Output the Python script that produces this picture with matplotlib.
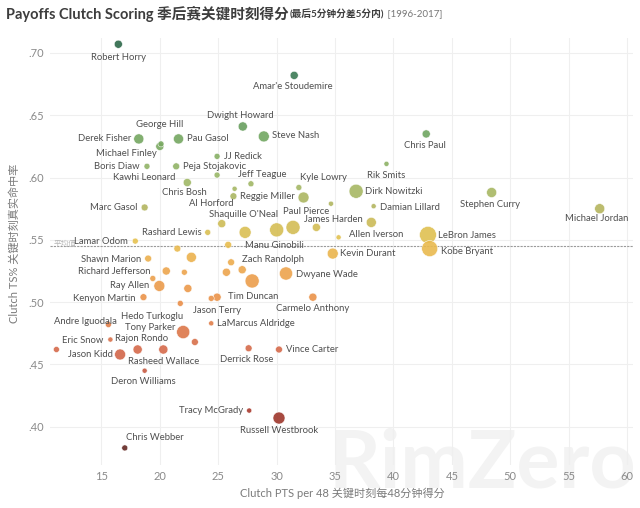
import numpy as np
import matplotlib.pyplot as plt
from matplotlib.colors import LinearSegmentedColormap
from matplotlib.ticker import FuncFormatter

plt.rcParams['font.family'] = ['Lato', 'Noto Sans CJK SC', 'DejaVu Sans']

# Playoff clutch scoring 1996-2017
players = [
    "Robert Horry", "Amar'e Stoudemire", "Dwight Howard", "Steve Nash", "Chris Paul",
    "Derek Fisher", "Pau Gasol", "Michael Finley", "George Hill", "Boris Diaw",
    "Peja Stojakovic", "JJ Redick", "Kawhi Leonard", "Chris Bosh", "Jeff Teague",
    "Kyle Lowry", "Rik Smits", "Dirk Nowitzki", "Damian Lillard", "Reggie Miller",
    "Al Horford", "Paul Pierce", "Shaquille O'Neal", "Rashard Lewis", "James Harden",
    "Allen Iverson", "Marc Gasol", "Stephen Curry", "Michael Jordan", "LeBron James",
    "Kobe Bryant", "Lamar Odom", "Manu Ginobili", "Kevin Durant", "Zach Randolph",
    "Shawn Marion", "Dwyane Wade", "Richard Jefferson", "Ray Allen", "Kenyon Martin",
    "Tim Duncan", "Jason Terry", "Carmelo Anthony", "LaMarcus Aldridge", "Andre Iguodala",
    "Hedo Turkoglu", "Tony Parker", "Rajon Rondo", "Eric Snow", "Jason Kidd",
    "Rasheed Wallace", "Derrick Rose", "Vince Carter", "Deron Williams", "Tracy McGrady",
    "Russell Westbrook", "Chris Webber",
    "", "", "", "", "", "", "", "", "", "", "", "", "", "", "",
]
clutch_pts = [
    16.45, 31.5, 27.1, 28.9, 42.8,
    18.2, 21.6, 20.0, 20.1, 18.9,
    21.4, 24.9, 24.9, 22.35, 27.8,
    31.9, 39.4, 36.8, 38.3, 26.3,
    26.4, 32.3, 27.3, 24.1, 38.1,
    35.3, 18.7, 48.4, 57.65, 42.95,
    43.1, 17.9, 25.85, 34.8, 26.1,
    19.0, 30.8, 20.55, 19.96, 18.6,
    24.9, 24.4, 33.1, 24.4, 15.6,
    21.75, 22.0, 15.77, 11.15, 16.6,
    20.3, 27.6, 30.2, 18.7, 27.65,
    30.2, 17.0,
    34.65, 25.3, 30.0, 31.4, 33.4, 21.5, 22.7, 22.1, 25.7, 27.05, 19.4, 22.4, 27.9, 23.0, 18.1,
]
clutch_ts = [
    0.707, 0.682, 0.641, 0.633, 0.635,
    0.631, 0.631, 0.625, 0.627, 0.609,
    0.609, 0.617, 0.602, 0.596, 0.595,
    0.592, 0.611, 0.589, 0.577, 0.585,
    0.591, 0.584, 0.556, 0.556, 0.564,
    0.552, 0.576, 0.588, 0.575, 0.554,
    0.543, 0.549, 0.546, 0.539, 0.532,
    0.535, 0.523, 0.525, 0.513, 0.504,
    0.504, 0.503, 0.504, 0.483, 0.482,
    0.499, 0.476, 0.470, 0.462, 0.458,
    0.462, 0.463, 0.462, 0.445, 0.413,
    0.407, 0.383,
    0.579, 0.563, 0.558, 0.560, 0.560, 0.543, 0.536, 0.524, 0.524, 0.526, 0.519, 0.511, 0.517, 0.468, 0.462,
]
volume = [
    55, 55, 70, 100, 55,
    85, 85, 55, 30, 30,
    40, 30, 30, 55, 30,
    30, 22, 165, 22, 40,
    22, 100, 120, 30, 85,
    22, 40, 85, 85, 240,
    215, 30, 40, 100, 40,
    40, 145, 55, 100, 40,
    55, 30, 55, 22, 30,
    30, 145, 22, 30, 100,
    70, 40, 40, 22, 22,
    120, 30,
    22, 55, 165, 165, 55, 40, 85, 30, 55, 55, 30, 55, 165, 40, 70,
]
avg_ts = 0.545

# label placement: offset in pixels from the dot, and alignment
label_pos = {
    "Robert Horry": (0, -13, 'center'), "Amar'e Stoudemire": (-1, -11, 'center'),
    "Dwight Howard": (-2, 11, 'center'), "Steve Nash": (8, 1, 'left'),
    "Chris Paul": (-1, -12, 'center'), "Derek Fisher": (-8, 0, 'right'),
    "Pau Gasol": (8, 0, 'left'), "Michael Finley": (-3, -7, 'right'),
    "George Hill": (-1, 19, 'center'), "Boris Diaw": (-7, 0, 'right'),
    "Peja Stojakovic": (7, 0, 'left'), "JJ Redick": (7, 0, 'left'),
    "Kawhi Leonard": (-42, -2, 'right'), "Chris Bosh": (-3, -10, 'center'),
    "Jeff Teague": (11, 9, 'center'), "Kyle Lowry": (1, 10, 'left'),
    "Rik Smits": (0, -12, 'center'), "Dirk Nowitzki": (9, 0, 'left'),
    "Damian Lillard": (6, -1, 'left'), "Reggie Miller": (7, 0, 'left'),
    "Al Horford": (-23, -15, 'center'), "Paul Pierce": (3, -14, 'center'),
    "Shaquille O'Neal": (-2, 18, 'center'), "Rashard Lewis": (-6, 0, 'right'),
    "James Harden": (-9, 3, 'right'), "Allen Iverson": (10, 3, 'left'),
    "Marc Gasol": (-7, 0, 'right'), "Stephen Curry": (-2, -12, 'center'),
    "Michael Jordan": (-3, -10, 'center'), "LeBron James": (10, -1, 'left'),
    "Kobe Bryant": (11, -3, 'left'), "Lamar Odom": (-7, 0, 'right'),
    "Manu Ginobili": (17, -1, 'left'), "Kevin Durant": (7, 0, 'left'),
    "Zach Randolph": (11, 3, 'left'), "Shawn Marion": (-7, -1, 'right'),
    "Dwyane Wade": (10, -1, 'left'), "Richard Jefferson": (-16, -1, 'right'),
    "Ray Allen": (-10, 0, 'right'), "Kenyon Martin": (-8, -1, 'right'),
    "Tim Duncan": (11, 1, 'left'), "Jason Terry": (6, -12, 'center'),
    "Carmelo Anthony": (0, -11, 'center'), "LaMarcus Aldridge": (6, 0, 'left'),
    "Andre Iguodala": (-23, 3, 'center'), "Hedo Turkoglu": (-28, -13, 'center'),
    "Tony Parker": (-8, 5, 'right'), "Rajon Rondo": (5, 1, 'left'),
    "Eric Snow": (26, 9, 'center'), "Jason Kidd": (-7, 0, 'right'),
    "Rasheed Wallace": (0, -12, 'center'), "Derrick Rose": (-2, -11, 'center'),
    "Vince Carter": (7, 0, 'left'), "Deron Williams": (-1, -11, 'center'),
    "Tracy McGrady": (-6, 0, 'right'), "Russell Westbrook": (0, -12, 'center'),
    "Chris Webber": (1, 10, 'left'),
}

lo, hi = 0.38, 0.71
stops = [(0.38, '#5e2622'), (0.41, '#a8392d'), (0.46, '#d4684a'), (0.50, '#e98f48'),
         (0.53, '#eeaa4e'), (0.55, '#e6c24f'), (0.575, '#b5b55e'), (0.60, '#9cb868'),
         (0.635, '#6fa560'), (0.68, '#3d7c55'), (0.71, '#2c6648')]
cmap = LinearSegmentedColormap.from_list('ts', [((v - lo) / (hi - lo), c) for v, c in stops])

fig = plt.figure(figsize=(6.4, 5.08), dpi=100)
ax = fig.add_axes([50 / 640, 1 - 465 / 508, 583 / 640, 427 / 508])

x = np.array(clutch_pts)
y = np.array(clutch_ts)
s = np.array(volume) * 0.62
order = np.argsort(-s)
ax.scatter(x[order], y[order], s=s[order], c=y[order], cmap=cmap, vmin=lo, vmax=hi,
           alpha=0.9, edgecolors='white', linewidths=0.4, zorder=3)

for name, xv, yv in zip(players, clutch_pts, clutch_ts):
    if not name:
        continue
    dx, dy, ha = label_pos[name]
    ax.annotate(name, (xv, yv), xytext=(dx, dy), textcoords='offset pixels',
                ha=ha, va='center', fontsize=6.8, color='#4f4f4f', zorder=4)

ax.axhline(avg_ts, color='#9a9a9a', lw=0.8, ls=(0, (2, 1)), zorder=2)
ax.text(10.9, avg_ts + 0.002, '平均值', fontsize=5.5, color='#b5b5b5', va='center', zorder=2)

ax.set_xlim(10.6, 60.5)
ax.set_ylim(0.3693, 0.712)
ax.set_xticks(np.arange(15, 61, 5))
ax.set_yticks(np.arange(0.40, 0.701, 0.05))
ax.yaxis.set_major_formatter(FuncFormatter(lambda v, p: f"{v:.2f}"[1:]))
ax.tick_params(length=0, labelsize=8, labelcolor='#8a8a8a', pad=4)
ax.grid(True, color='#efefef', lw=0.8, zorder=0)
for sp in ax.spines.values():
    sp.set_visible(False)

# faint brand watermark behind the lower right of the chart
ax.text(482 / 640, 1 - 488 / 508, 'RimZero', transform=fig.transFigure, fontsize=58,
        fontweight='bold', color='#f3f3f3', ha='center', va='baseline', zorder=1, clip_on=False)

fig.text(14 / 640, 1 - 243 / 508, 'Clutch TS% 关键时刻真实命中率', rotation=90,
         ha='center', va='center', fontsize=8, color='#7a7a7a')
fig.text(342 / 640, 1 - 493 / 508, 'Clutch PTS per 48 关键时刻每48分钟得分',
         ha='center', va='center', fontsize=8, color='#7a7a7a')

# title pieces chained left to right
renderer = fig.canvas.get_renderer()
xpos = 6
for txt, size, weight, col in [('Payoffs Clutch Scoring 季后赛关键时刻得分', 10.5, 'bold', '#3d3d3d'),
                               ('(最后5分钟分差5分内)', 7, 'bold', '#3d3d3d'),
                               (' [1996-2017]', 7, 'normal', '#777777')]:
    t = fig.text(xpos / 640, 1 - 14 / 508, txt, fontsize=size, fontweight=weight,
                 color=col, va='center', ha='left')
    xpos += t.get_window_extent(renderer).width + 1

fig.savefig('out.png', dpi=100)
